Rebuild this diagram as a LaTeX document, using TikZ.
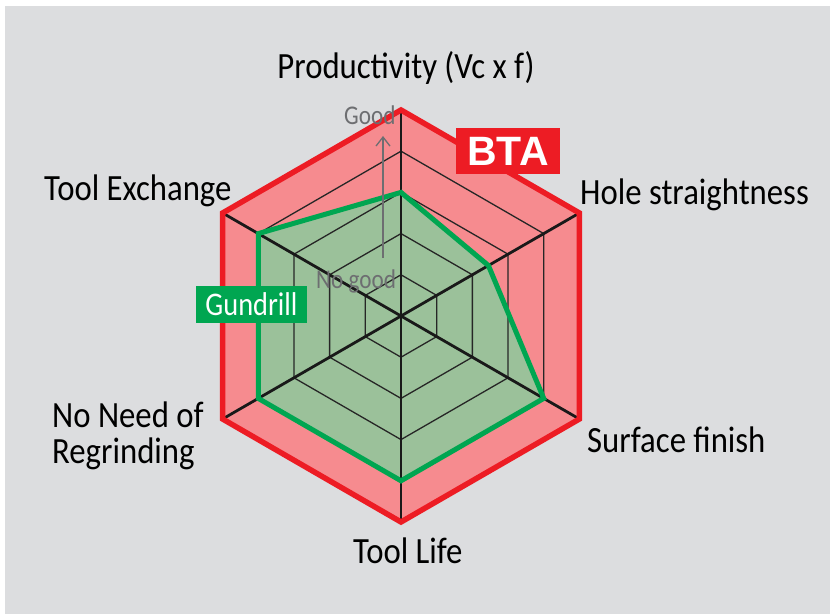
\documentclass[tikz,border=0pt]{standalone}
\usepackage{fontspec}
\setmainfont{Carlito}
\newfontfamily\labfont[FakeStretch=0.885]{Carlito}
\newfontfamily\hintfont[FakeStretch=0.86]{Carlito}
\newfontfamily\btafont{Liberation Sans}
\usetikzlibrary{arrows.meta}
\definecolor{bggray}{HTML}{DCDDDF}
\definecolor{redfill}{HTML}{F68B8F}
\definecolor{redline}{HTML}{ED1C24}
\definecolor{greenfill}{HTML}{9BC19A}
\definecolor{greenline}{HTML}{00A651}
\definecolor{hintgray}{HTML}{6D6E71}
\tikzset{
  lab/.style={anchor=base west, inner sep=0pt, text=black, font=\labfont\fontsize{37}{36}\selectfont},
  hint/.style={anchor=base west, inner sep=0pt, text=hintgray, font=\hintfont\fontsize{27}{27}\selectfont},
  ring/.style={draw=black!85, line width=1.3pt},
  axisline/.style={draw=black!90, line width=2.8pt},
  redpoly/.style={draw=redline, line width=5.5pt, line join=miter},
  greenpoly/.style={draw=greenline, line width=5pt, line join=miter},
  tag/.style={inner sep=0pt, text=white},
}
\begin{document}
\begin{tikzpicture}[x=1pt,y=1pt]
\useasboundingbox (0,0) rectangle (830,614);
\fill[bggray] (5,0) rectangle (830,608);
\coordinate (C) at (401,298);
\foreach \i/\a/\v in {1/90/0.6,2/30/0.49,3/-30/0.8,4/-90/0.8,5/-150/0.8,6/150/0.8} {
  \coordinate (R\i) at ([shift={(\a:206)}]C);
  \coordinate (G\i) at ([shift={(\a:{\v*206})}]C);
}
% fills
\fill[redfill] (R1) -- (R2) -- (R3) -- (R4) -- (R5) -- (R6) -- cycle;
\fill[greenfill] (G1) -- (G2) -- (G3) -- (G4) -- (G5) -- (G6) -- cycle;
% rings
\foreach \k in {1,2,3,4} {
  \draw[ring, shift={(C)}] (90:{\k*41.2}) -- (30:{\k*41.2}) -- (-30:{\k*41.2}) -- (-90:{\k*41.2}) -- (-150:{\k*41.2}) -- (150:{\k*41.2}) -- cycle;
}
% axes
\foreach \i in {1,...,6} { \draw[axisline] (C) -- (R\i); }
% outlines
\draw[greenpoly] (G1) -- (G2) -- (G3) -- (G4) -- (G5) -- (G6) -- cycle;
\draw[redpoly] (R1) -- (R2) -- (R3) -- (R4) -- (R5) -- (R6) -- cycle;
% good / no good
\coordinate (arrS) at (383,356);
\coordinate (arrE) at (383,478);
\draw[hintgray, line width=1.3pt, -{Straight Barb[length=9pt,width=14pt]}] (arrS) -- (arrE);
\node[hint] (good) at (344,489) {Good};
\node[hint] (nogood) at (316,325) {No good};
% tags
\node[tag, fill=redline, minimum width=104pt, minimum height=46pt, font=\btafont\bfseries\fontsize{41}{41}\selectfont] (bta) at (508,463) {BTA};
\node[tag, fill=greenline, minimum width=111pt, minimum height=37pt, font=\hintfont\fontsize{33}{33}\selectfont] (gun) at (251.5,309.5) {Gundrill};
% labels
\node[lab, anchor=base] (prod) at (406,535) {Productivity (Vc x f)};
\node[lab] (hole) at (580,409) {Hole straightness};
\node[lab] (surf) at (587,162) {Surface finish};
\node[lab] (life) at (353,51) {Tool Life};
\node[lab] (regr1) at (52,187) {No Need of};
\node[lab] (regr2) at (52,151) {Regrinding};
\node[lab] (exch) at (44,413) {Tool Exchange};
\end{tikzpicture}
\end{document}
